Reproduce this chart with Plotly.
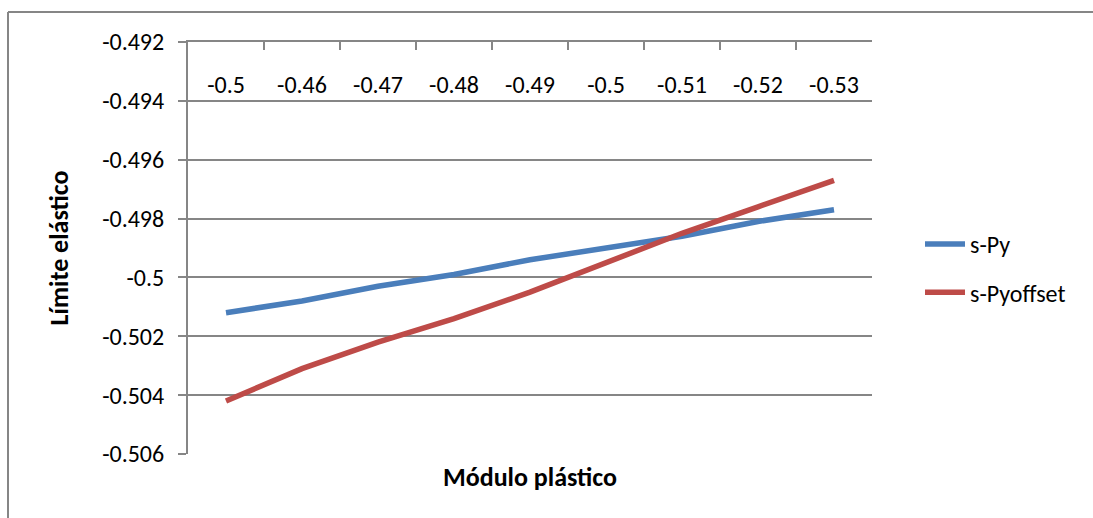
import plotly.graph_objects as go

# ---- data ----
categories = ["-0.5", "-0.46", "-0.47", "-0.48", "-0.49", "-0.5", "-0.51", "-0.52", "-0.53"]
s_py = [-0.5012, -0.5008, -0.5003, -0.4999, -0.4994, -0.4990, -0.4986, -0.4981, -0.4977]
s_pyoffset = [-0.5042, -0.5031, -0.5022, -0.5014, -0.5005, -0.4995, -0.4985, -0.4976, -0.4967]
y_tickvals = [-0.506, -0.504, -0.502, -0.500, -0.498, -0.496, -0.494, -0.492]
y_ticktext = ["-0.506", "-0.504", "-0.502", "-0.5", "-0.498", "-0.496", "-0.494", "-0.492"]

x_pos = list(range(len(categories)))

FONT = "Carlito, Lato, 'Open Sans', sans-serif"
GRID = "#868686"
FS = 24
FT = 26

W, H = 1093, 518
L, R, T, B = 188, 872, 42, 454  # plot area in px

fig = go.Figure()
fig.add_trace(go.Scatter(x=x_pos, y=s_py, mode="lines", name="s-Py",
                         line=dict(color="#4A7EBB", width=5.5), legendgroup="a"))
fig.add_trace(go.Scatter(x=x_pos, y=s_pyoffset, mode="lines", name="s-Pyoffset",
                         line=dict(color="#BE4B48", width=5.5), legendgroup="b"))
# invisible helper so that the category-label axis (x2) is rendered
fig.add_trace(go.Scatter(x=x_pos, y=s_py, xaxis="x2", yaxis="y", mode="markers",
                         marker=dict(opacity=0, size=1), showlegend=False, hoverinfo="skip"))

def px2paper_x(px):
    return (px - L) / (R - L)

def px2paper_y(py):
    return (B - py) / (B - T)

xrange = [-0.5, len(categories) - 0.5]
fig.update_layout(
    width=W, height=H,
    margin=dict(l=L, r=W - R, t=T, b=H - B, pad=0),
    paper_bgcolor="white", plot_bgcolor="white",
    font=dict(family=FONT, size=FS, color="black"),
    showlegend=True,
    legend=dict(x=px2paper_x(920), y=px2paper_y(222), xanchor="left", yanchor="top",
                font=dict(size=FS), tracegroupgap=14, itemwidth=40,
                bgcolor="rgba(0,0,0,0)"),
    xaxis=dict(
        side="top", range=xrange,
        tickmode="array", tickvals=[i - 0.5 for i in range(len(categories) + 1)],
        showticklabels=False,
        ticks="inside", ticklen=8, tickwidth=2, tickcolor=GRID,
        showline=True, linecolor=GRID, linewidth=2, mirror=False,
        showgrid=False, zeroline=False,
    ),
    xaxis2=dict(
        overlaying="x", anchor="free", position=px2paper_y(68),
        side="bottom", range=xrange,
        tickmode="array", tickvals=x_pos, ticktext=categories,
        ticks="", showline=False, showgrid=False, zeroline=False,
        tickfont=dict(size=FS),
    ),
    yaxis=dict(
        range=[-0.506, -0.492], tickmode="array", tickvals=y_tickvals, ticktext=y_ticktext,
        ticks="outside", ticklen=8, tickwidth=2, tickcolor=GRID,
        showline=True, linecolor=GRID, linewidth=2,
        showgrid=True, gridcolor=GRID, gridwidth=2, zeroline=False,
        ticklabelstandoff=9,
        title=dict(text="<b>Límite elástico</b>", font=dict(size=FT), standoff=26),
        tickfont=dict(size=FS),
    ),
    annotations=[dict(text="<b>Módulo plástico</b>", xref="paper", yref="paper",
                      x=0.5, y=px2paper_y(477), xanchor="center", yanchor="middle",
                      showarrow=False, font=dict(size=FT))],
    shapes=[
        dict(type="line", xref="paper", yref="paper", x0=px2paper_x(8), x1=px2paper_x(1200),
             y0=px2paper_y(12), y1=px2paper_y(12), line=dict(color=GRID, width=2), layer="above"),
        dict(type="line", xref="paper", yref="paper", x0=px2paper_x(8), x1=px2paper_x(8),
             y0=px2paper_y(12), y1=px2paper_y(600), line=dict(color=GRID, width=2), layer="above"),
    ],
)

fig.write_html("out.html")
